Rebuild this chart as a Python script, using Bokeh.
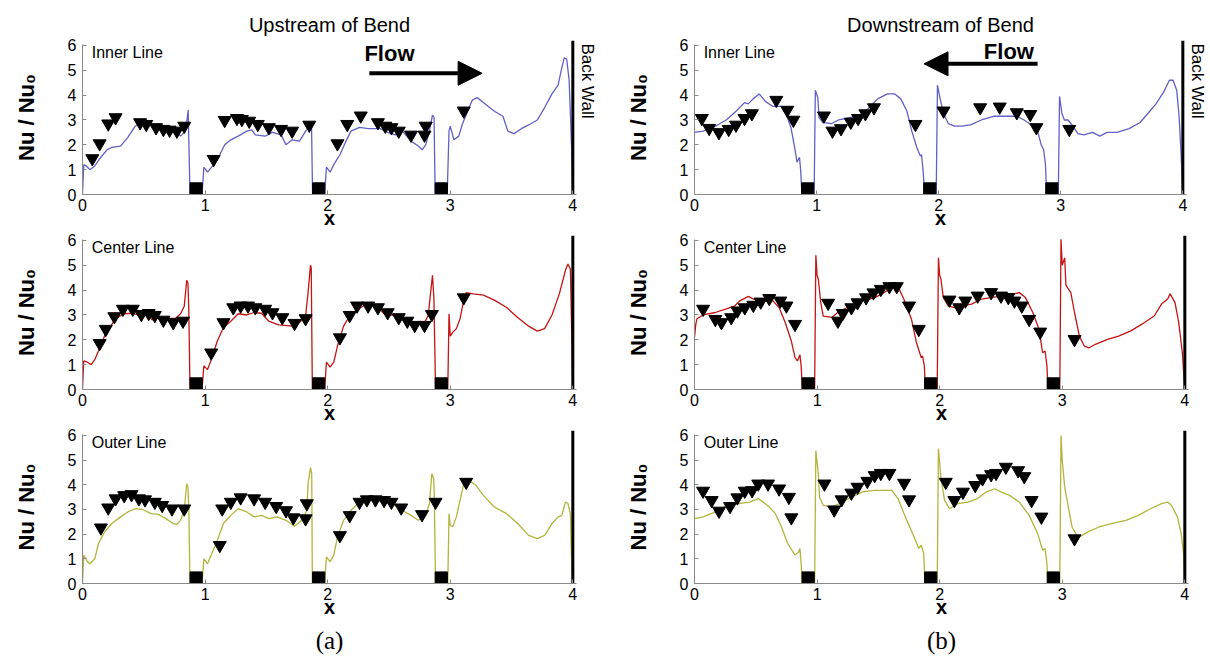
import math
from bokeh.plotting import figure
from bokeh.models import Label, Arrow, NormalHead, Title, Range1d, FixedTicker
from bokeh.layouts import column, row
from bokeh.embed import file_html
from bokeh.resources import INLINE

# ---------------- data ----------------
x_ticks = [0, 1, 2, 3, 4]
y_ticks = [0, 1, 2, 3, 4, 5, 6]
rib_left = [0.877, 1.877, 2.877]
rib_right = [0.977, 1.977, 2.977]
rib_height = [0.47, 0.47, 0.47]
wall_x = 4.0
wall_top = 6.2

col_titles = ["Upstream of Bend", "Downstream of Bend"]
row_names = ["Inner Line", "Center Line", "Outer Line"]
panel_tags = ["(a)", "(b)"]

# Upstream / inner (computed curve)
up_inner_x = [0, 0.01, 0.03, 0.06, 0.10, 0.15, 0.20, 0.24, 0.31, 0.37, 0.43, 0.48, 0.52, 0.59, 0.65, 0.71, 0.77, 0.80, 0.83, 0.85, 0.862, 0.877,
              0.975, 0.99, 1.02, 1.07, 1.12, 1.16, 1.21, 1.27, 1.34, 1.38, 1.41, 1.49, 1.55, 1.62, 1.66, 1.71, 1.77, 1.82, 1.85, 1.868, 1.877,
              1.975, 1.99, 2.02, 2.05, 2.10, 2.15, 2.19, 2.26, 2.33, 2.43, 2.49, 2.55, 2.61, 2.68, 2.74, 2.77, 2.80, 2.83, 2.855, 2.868, 2.877,
              2.975, 2.99, 3.00, 3.03, 3.07, 3.10, 3.13, 3.18, 3.22, 3.27, 3.36, 3.43, 3.47, 3.52, 3.58, 3.64, 3.71, 3.77, 3.83, 3.88, 3.91, 3.93, 3.95, 3.97, 3.99, 4.0]
up_inner_y = [0, 1.2, 1.15, 1.0, 1.15, 1.5, 1.8, 1.9, 1.95, 2.3, 2.75, 2.9, 2.9, 2.8, 2.7, 2.65, 2.5, 2.35, 2.5, 2.9, 3.4, 0,
              0, 1.1, 0.9, 1.2, 1.6, 2.0, 2.2, 2.35, 2.55, 2.6, 2.4, 2.35, 2.5, 2.4, 2.0, 2.2, 2.15, 2.55, 2.75, 2.9, 0,
              0, 1.1, 0.9, 1.2, 1.6, 2.15, 2.55, 2.7, 2.65, 2.65, 2.5, 2.4, 2.55, 2.15, 1.95, 1.8, 2.0, 2.55, 3.2, 3.1, 0,
              0, 2.55, 2.75, 2.2, 2.35, 2.85, 3.2, 3.8, 3.9, 3.7, 3.35, 3.15, 2.55, 2.45, 2.65, 2.8, 3.0, 3.5, 4.05, 4.4, 5.1, 5.5, 5.45, 4.6, 1.9, 0]
# Upstream / inner (measured)
up_inner_mx = [0.08, 0.14, 0.21, 0.27, 0.47, 0.52, 0.60, 0.66, 0.71, 0.77, 0.83,
               1.07, 1.16, 1.26, 1.30, 1.36, 1.43, 1.52, 1.62, 1.71, 1.85,
               2.08, 2.16, 2.27, 2.41, 2.47, 2.52, 2.58, 2.68, 2.79, 2.80, 3.11]
up_inner_my = [1.45, 2.05, 2.85, 3.1, 2.9, 2.83, 2.7, 2.63, 2.6, 2.56, 2.76,
               1.42, 2.99, 3.07, 3.03, 2.96, 2.83, 2.7, 2.63, 2.56, 2.8,
               2.05, 2.83, 3.17, 2.9, 2.76, 2.7, 2.56, 2.4, 2.4, 2.76, 3.37]

# Downstream / inner
down_inner_x = [0, 0.07, 0.17, 0.26, 0.34, 0.41, 0.44, 0.48, 0.53, 0.58, 0.64, 0.71, 0.75, 0.79, 0.82, 0.84, 0.86, 0.87, 0.88,
                0.98, 0.99, 1.01, 1.02, 1.05, 1.12, 1.18, 1.28, 1.37, 1.43, 1.50, 1.58, 1.64, 1.69, 1.74, 1.78, 1.82, 1.85, 1.86, 1.875, 1.884,
                1.98, 1.99, 2.01, 2.04, 2.08, 2.13, 2.19, 2.26, 2.35, 2.45, 2.54, 2.64, 2.70, 2.76, 2.81, 2.84, 2.86, 2.875, 2.884,
                2.98, 2.99, 3.01, 3.03, 3.06, 3.10, 3.14, 3.19, 3.26, 3.32, 3.38, 3.46, 3.56, 3.65, 3.72, 3.78, 3.84, 3.89, 3.92, 3.95, 3.97, 3.99, 4.0]
down_inner_y = [2.5, 2.55, 2.75, 3.0, 3.35, 3.7, 3.65, 3.85, 4.05, 3.75, 3.55, 3.55, 3.25, 2.7, 1.9, 1.3, 1.5, 0.95, 0,
                0, 4.2, 3.9, 3.1, 2.9, 2.85, 3.0, 3.1, 3.15, 3.5, 3.85, 4.05, 4.05, 3.85, 3.35, 2.55, 1.9, 1.55, 1.6, 0.8, 0,
                0, 4.4, 3.9, 3.25, 2.85, 2.75, 2.75, 2.8, 3.0, 3.15, 3.15, 3.15, 3.0, 2.8, 2.55, 2.0, 1.8, 1.2, 0,
                0, 3.95, 3.25, 3.0, 3.0, 2.75, 2.45, 2.4, 2.5, 2.35, 2.5, 2.5, 2.65, 2.9, 3.3, 3.65, 4.1, 4.6, 4.6, 4.2, 3.1, 1.2, 0]
down_inner_mx = [0.06, 0.12, 0.20, 0.28, 0.34, 0.41, 0.47, 0.67, 0.76, 0.81,
                 1.06, 1.13, 1.20, 1.28, 1.34, 1.40, 1.47, 1.81,
                 2.04, 2.34, 2.50, 2.64, 2.75, 2.80, 3.07]
down_inner_my = [3.07, 2.67, 2.5, 2.63, 2.8, 3.07, 3.26, 3.8, 3.4, 3.0,
                 3.17, 2.56, 2.66, 2.92, 3.07, 3.26, 3.5, 2.83,
                 3.37, 3.5, 3.53, 3.3, 3.23, 2.7, 2.63]

# Upstream / center
up_center_x = [0, 0.01, 0.04, 0.07, 0.10, 0.13, 0.18, 0.23, 0.27, 0.34, 0.40, 0.46, 0.52, 0.57, 0.63, 0.68, 0.76, 0.80, 0.83, 0.85, 0.86, 0.867, 0.877,
               0.975, 0.99, 1.02, 1.05, 1.10, 1.15, 1.21, 1.27, 1.34, 1.40, 1.46, 1.52, 1.60, 1.71, 1.77, 1.82, 1.84, 1.86, 1.866, 1.875,
               1.975, 1.99, 2.02, 2.05, 2.08, 2.13, 2.19, 2.27, 2.33, 2.40, 2.46, 2.55, 2.61, 2.68, 2.74, 2.79, 2.82, 2.84, 2.855, 2.867, 2.88,
               2.98, 2.99, 3.0, 3.02, 3.05, 3.08, 3.10, 3.13, 3.19, 3.27, 3.36, 3.46, 3.55, 3.64, 3.71, 3.77, 3.83, 3.89, 3.94, 3.96, 3.98, 3.99, 4.0]
up_center_y = [0, 1.15, 1.1, 1.0, 1.2, 1.55, 2.15, 2.55, 2.85, 3.05, 3.07, 3.0, 3.05, 2.8, 2.9, 2.85, 2.87, 3.05, 3.35, 4.4, 4.3, 3.25, 0,
               0, 0.95, 0.8, 1.2, 1.95, 2.5, 2.75, 3.05, 3.0, 3.1, 3.07, 2.75, 2.6, 2.55, 2.7, 2.95, 3.9, 5.0, 4.9, 0,
               0, 1.1, 0.9, 1.1, 1.75, 2.55, 3.05, 3.3, 3.48, 3.37, 3.05, 2.97, 2.87, 2.75, 2.65, 2.7, 2.97, 3.9, 4.6, 3.65, 0,
               0, 3.05, 2.15, 2.3, 2.45, 2.85, 3.35, 3.9, 3.85, 3.8, 3.6, 3.3, 2.9, 2.55, 2.35, 2.45, 3.0, 3.85, 4.8, 5.05, 4.85, 2.55, 0]
up_center_mx = [0.14, 0.19, 0.26, 0.33, 0.41, 0.48, 0.54, 0.59, 0.66, 0.74, 0.82,
                1.05, 1.15, 1.23, 1.29, 1.35, 1.41, 1.49, 1.55, 1.63, 1.73, 1.82,
                2.10, 2.18, 2.24, 2.33, 2.41, 2.49, 2.58, 2.65, 2.71, 2.79, 2.85, 3.11]
up_center_my = [1.86, 2.43, 2.94, 3.24, 3.24, 3.03, 3.07, 2.99, 2.8, 2.7, 2.76,
                1.48, 2.7, 3.3, 3.37, 3.37, 3.3, 3.24, 3.1, 2.9, 2.67, 2.86,
                2.09, 2.99, 3.37, 3.37, 3.3, 3.1, 2.9, 2.76, 2.59, 2.59, 3.03, 3.7]

# Downstream / center
down_center_x = [0, 0.01, 0.02, 0.07, 0.17, 0.26, 0.33, 0.37, 0.42, 0.44, 0.47, 0.52, 0.58, 0.64, 0.69, 0.74, 0.79, 0.82, 0.84, 0.86, 0.87, 0.88,
                 0.98, 0.99, 1.0, 1.01, 1.03, 1.05, 1.12, 1.18, 1.28, 1.37, 1.47, 1.53, 1.59, 1.64, 1.67, 1.72, 1.77, 1.81, 1.85, 1.86, 1.875, 1.884,
                 1.98, 1.99, 2.0, 2.01, 2.03, 2.07, 2.12, 2.18, 2.26, 2.34, 2.42, 2.51, 2.61, 2.65, 2.70, 2.76, 2.81, 2.84, 2.86, 2.875, 2.884,
                 2.98, 2.99, 3.0, 3.02, 3.03, 3.07, 3.10, 3.14, 3.18, 3.22, 3.27, 3.37, 3.46, 3.56, 3.65, 3.75, 3.81, 3.86, 3.88, 3.92, 3.95, 3.98, 4.0]
down_center_y = [2.1, 2.6, 2.85, 3.0, 3.1, 3.25, 3.37, 3.57, 3.7, 3.75, 3.67, 3.57, 3.57, 3.57, 3.3, 2.7, 1.95, 1.28, 1.15, 1.4, 0.95, 0,
                 0, 5.4, 4.6, 4.45, 3.5, 2.95, 2.9, 3.15, 3.37, 3.57, 3.7, 3.85, 4.05, 4.2, 4.05, 3.5, 2.83, 1.9, 1.28, 1.35, 0.95, 0,
                 0, 5.3, 4.6, 4.45, 3.7, 3.37, 3.3, 3.37, 3.44, 3.64, 3.7, 3.77, 3.85, 3.9, 3.7, 3.1, 2.43, 1.48, 1.55, 0.95, 0,
                 0, 6.05, 5.0, 5.3, 4.2, 3.9, 3.1, 2.15, 1.75, 1.68, 1.82, 2.02, 2.15, 2.36, 2.63, 2.96, 3.44, 3.64, 3.85, 3.5, 2.7, 1.48, 0]
down_center_mx = [0.07, 0.17, 0.22, 0.30, 0.35, 0.41, 0.48, 0.54, 0.61, 0.70, 0.75, 0.82,
                  1.09, 1.17, 1.21, 1.28, 1.33, 1.40, 1.46, 1.52, 1.59, 1.65, 1.75, 1.83,
                  2.08, 2.16, 2.21, 2.31, 2.42, 2.50, 2.56, 2.61, 2.67, 2.73, 2.82, 3.10]
down_center_my = [3.24, 2.83, 2.7, 2.9, 3.17, 3.3, 3.4, 3.53, 3.67, 3.57, 3.37, 2.63,
                  3.48, 2.76, 3.07, 3.3, 3.5, 3.7, 3.9, 4.04, 4.15, 4.15, 3.37, 2.43,
                  3.61, 3.3, 3.57, 3.77, 3.91, 3.77, 3.71, 3.57, 3.37, 2.83, 2.32, 2.02]

# Upstream / outer
up_outer_x = [0, 0.01, 0.04, 0.06, 0.10, 0.13, 0.18, 0.24, 0.31, 0.37, 0.43, 0.49, 0.56, 0.62, 0.68, 0.74, 0.77, 0.80, 0.83, 0.85, 0.86, 0.867, 0.877,
              0.975, 0.99, 1.02, 1.05, 1.10, 1.15, 1.21, 1.27, 1.34, 1.40, 1.46, 1.52, 1.59, 1.66, 1.73, 1.79, 1.83, 1.84, 1.86, 1.87, 1.875,
              1.975, 1.99, 2.02, 2.05, 2.08, 2.13, 2.19, 2.26, 2.32, 2.38, 2.46, 2.54, 2.61, 2.68, 2.74, 2.80, 2.83, 2.85, 2.865, 2.87, 2.88,
              2.98, 2.99, 3.0, 3.02, 3.05, 3.08, 3.11, 3.15, 3.21, 3.27, 3.36, 3.46, 3.55, 3.64, 3.71, 3.77, 3.83, 3.88, 3.91, 3.94, 3.96, 3.98, 3.99, 4.0]
up_outer_y = [0, 1.15, 0.88, 0.8, 1.0, 1.62, 2.09, 2.43, 2.7, 2.9, 3.03, 3.0, 2.83, 2.8, 2.63, 2.43, 2.4, 2.56, 2.96, 4.04, 3.9, 3.1, 0,
              0, 1.0, 0.8, 1.15, 1.75, 2.43, 2.76, 3.03, 2.9, 2.7, 2.76, 2.63, 2.7, 2.56, 2.32, 2.56, 2.96, 4.04, 4.7, 4.45, 0,
              0, 1.08, 0.88, 1.15, 1.89, 2.56, 2.96, 3.3, 3.5, 3.37, 3.3, 3.17, 2.96, 2.76, 2.56, 2.76, 3.24, 4.45, 4.25, 3.5, 0,
              0, 2.83, 2.36, 2.3, 2.7, 3.37, 4.04, 4.18, 3.98, 3.57, 3.1, 2.83, 2.43, 1.95, 1.82, 1.95, 2.43, 2.7, 2.76, 3.3, 3.24, 2.83, 0.95, 0]
up_outer_mx = [0.15, 0.21, 0.27, 0.34, 0.40, 0.46, 0.51, 0.59, 0.65, 0.73, 0.83,
               1.12, 1.14, 1.21, 1.29, 1.40, 1.49, 1.58, 1.66, 1.72, 1.82, 1.83,
               2.10, 2.18, 2.26, 2.32, 2.39, 2.46, 2.52, 2.60, 2.77, 2.88, 3.13]
up_outer_my = [2.26, 3.07, 3.44, 3.57, 3.61, 3.44, 3.4, 3.3, 3.17, 3.03, 3.03,
               1.55, 3.03, 3.3, 3.48, 3.44, 3.3, 3.13, 2.96, 2.67, 2.63, 3.24,
               1.95, 2.76, 3.3, 3.4, 3.4, 3.37, 3.3, 3.07, 2.8, 3.3, 4.11]

# Downstream / outer
down_outer_x = [0, 0.07, 0.17, 0.26, 0.36, 0.45, 0.52, 0.56, 0.61, 0.66, 0.71, 0.76, 0.82, 0.85, 0.86, 0.87, 0.88,
                0.98, 0.99, 1.01, 1.02, 1.05, 1.12, 1.18, 1.28, 1.37, 1.47, 1.56, 1.61, 1.66, 1.72, 1.78, 1.83, 1.85, 1.87, 1.88,
                1.98, 1.99, 2.01, 2.04, 2.08, 2.15, 2.23, 2.31, 2.38, 2.45, 2.50, 2.57, 2.65, 2.73, 2.80, 2.84, 2.86, 2.875, 2.884,
                2.98, 2.99, 3.0, 3.02, 3.05, 3.08, 3.12, 3.14, 3.21, 3.30, 3.40, 3.52, 3.62, 3.72, 3.81, 3.86, 3.89, 3.94, 3.97, 3.99, 4.0]
down_outer_y = [2.63, 2.7, 2.9, 3.17, 3.24, 3.3, 3.44, 3.3, 3.1, 2.83, 2.29, 1.62, 1.15, 1.28, 1.42, 0.81, 0,
                0, 5.39, 4.45, 3.5, 3.17, 3.1, 3.24, 3.5, 3.71, 3.77, 3.77, 3.77, 3.44, 2.7, 2.02, 1.42, 1.55, 1.21, 0,
                0, 5.46, 4.31, 3.37, 3.03, 3.24, 3.3, 3.44, 3.71, 3.84, 3.71, 3.57, 3.3, 2.76, 2.02, 1.35, 1.42, 0.81, 0,
                0, 6.0, 4.99, 3.91, 3.1, 2.29, 1.95, 1.89, 2.09, 2.29, 2.43, 2.56, 2.76, 3.03, 3.24, 3.3, 3.17, 2.7, 2.02, 1.21, 0]
down_outer_mx = [0.07, 0.14, 0.20, 0.29, 0.35, 0.41, 0.47, 0.52, 0.60, 0.69, 0.77, 0.79,
                 1.06, 1.14, 1.20, 1.28, 1.33, 1.41, 1.47, 1.52, 1.59, 1.71, 1.75,
                 2.05, 2.12, 2.19, 2.29, 2.35, 2.42, 2.46, 2.54, 2.64, 2.69, 2.75, 2.83, 3.10]
down_outer_my = [3.75, 3.37, 2.94, 3.13, 3.48, 3.75, 3.77, 4.04, 4.04, 3.84, 3.5, 2.67,
                 4.04, 2.99, 3.4, 3.67, 3.91, 4.15, 4.38, 4.47, 4.47, 4.07, 3.4,
                 4.11, 3.37, 3.71, 3.98, 4.25, 4.42, 4.47, 4.72, 4.58, 4.34, 3.37, 2.7, 1.82]

line_colors = ["#6060c8", "#c41414", "#b4b43c"]

panels = [
    [(up_inner_x, up_inner_y, up_inner_mx, up_inner_my), (down_inner_x, down_inner_y, down_inner_mx, down_inner_my)],
    [(up_center_x, up_center_y, up_center_mx, up_center_my), (down_center_x, down_center_y, down_center_mx, down_center_my)],
    [(up_outer_x, up_outer_y, up_outer_mx, up_outer_my), (down_outer_x, down_outer_y, down_outer_mx, down_outer_my)],
]

FONT = "Liberation Sans"
row_heights = [232, 195, 230]
border_top = [40, 3, 3]
border_bottom = [38, 38, 73]
col_border_left = [82, 89]
col_border_right = [29, 22]


def make_panel(r, c):
    cx, cy, mx, my = panels[r][c]
    p = figure(width=605, height=row_heights[r], output_backend="svg", toolbar_location=None,
               x_range=Range1d(0, 4.03), y_range=Range1d(0, 6.2),
               min_border_left=col_border_left[c], min_border_right=col_border_right[c],
               min_border_top=border_top[r], min_border_bottom=border_bottom[r])
    p.outline_line_color = None
    p.xgrid.visible = False
    p.ygrid.visible = False
    p.background_fill_color = "white"
    p.border_fill_color = "white"
    if r == 0:
        p.title = Title(text=col_titles[c], align="center", text_font=FONT, text_font_size="20px",
                        text_font_style="normal", text_color="black", standoff=9)
        p.add_layout(Title(text="Back Wall", align="left", text_font=FONT, text_font_size="17px",
                           text_font_style="normal", text_color="black", standoff=3, offset=3), "right")
    for ax in (p.xaxis[0], p.yaxis[0]):
        ax.axis_line_color = "#8a8a8a"
        ax.axis_line_width = 1
        ax.major_tick_line_color = "#8a8a8a"
        ax.major_tick_in = 4
        ax.major_tick_out = 0
        ax.minor_tick_line_color = None
        ax.major_label_text_font = FONT
        ax.major_label_text_font_size = "16px"
        ax.major_label_text_color = "black"
        ax.axis_label_text_font = FONT
        ax.axis_label_text_font_style = "bold"
        ax.axis_label_text_color = "black"
    p.xaxis.ticker = FixedTicker(ticks=x_ticks)
    p.yaxis.ticker = FixedTicker(ticks=y_ticks)
    p.yaxis.bounds = (0, 6.05)
    p.xaxis.axis_label = "x"
    p.xaxis.axis_label_text_font_size = "20px"
    p.xaxis.major_label_standoff = 4
    p.xaxis.axis_label_standoff = -7
    p.yaxis.axis_label = "Nu / Nu\u2080"
    p.yaxis.axis_label_text_font_size = "22px"
    p.yaxis.major_label_standoff = 6
    p.yaxis.axis_label_standoff = 26

    p.line(cx, cy, line_color=line_colors[r], line_width=1.3)
    p.scatter(mx, my, marker="inverted_triangle", size=13, fill_color="black", line_color="black")
    p.quad(left=rib_left, right=rib_right, bottom=[0, 0, 0], top=rib_height, fill_color="black", line_color="black")
    p.segment(x0=[wall_x], y0=[0], x1=[wall_x], y1=[wall_top], line_color="black", line_width=3)

    p.add_layout(Label(x=0.075, y=5.72, text=row_names[r], text_font=FONT, text_font_size="16px",
                       text_baseline="middle", text_color="black"))
    if r == 0:
        if c == 0:
            p.add_layout(Label(x=2.30, y=5.66, text="Flow", text_font=FONT, text_font_size="22px",
                               text_font_style="bold", text_baseline="middle", text_color="black"))
            p.add_layout(Arrow(end=NormalHead(size=24, fill_color="black", line_color="black"),
                               x_start=2.34, y_start=4.88, x_end=3.26, y_end=4.88, line_width=4, line_color="black"))
        else:
            p.add_layout(Label(x=2.37, y=5.77, text="Flow", text_font=FONT, text_font_size="22px",
                               text_font_style="bold", text_baseline="middle", text_color="black"))
            p.add_layout(Arrow(end=NormalHead(size=24, fill_color="black", line_color="black"),
                               x_start=2.81, y_start=5.26, x_end=1.88, y_end=5.26, line_width=4, line_color="black"))
    if r == 2:
        p.add_layout(Title(text=panel_tags[c], align="center", text_font="Liberation Serif",
                           text_font_size="25px", text_font_style="normal", text_color="black", standoff=8), "below")
    return p


rows = [row(make_panel(r, 0), make_panel(r, 1)) for r in range(3)]
layout = column(*rows)

open("out.html", "w").write(file_html(layout, INLINE))
